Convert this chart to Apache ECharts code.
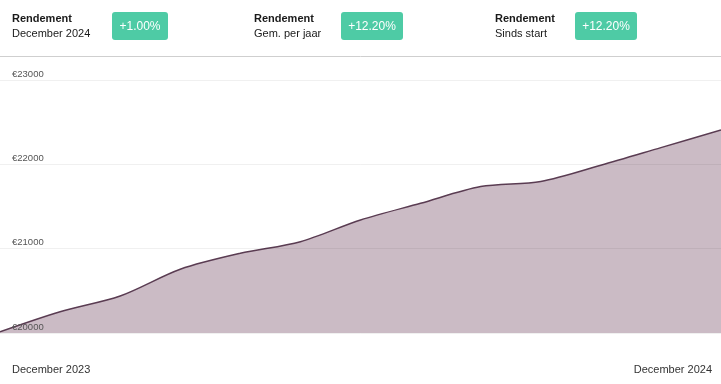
<!DOCTYPE html>
<html>
<head>
<meta charset="utf-8">
<script src="https://cdn.jsdelivr.net/npm/echarts@6/dist/echarts.min.js"></script>
<style>
html,body{margin:0;padding:0;background:#fff;}
#c{width:721px;height:384px;}
</style>
</head>
<body>
<div id="c"></div>
<script>
const categories = ['December 2023','Januari 2024','Februari 2024','Maart 2024','April 2024','Mei 2024','Juni 2024','Juli 2024','Augustus 2024','September 2024','Oktober 2024','November 2024','December 2024'];
const values = [20015, 20253, 20439, 20756, 20945, 21083, 21340, 21538, 21736, 21797, 21989, 22198, 22408];
const headerTitles = ['Rendement','Rendement','Rendement'];
const headerSubs = ['December 2024','Gem. per jaar','Sinds start'];
const badgeTexts = ['+1.00%','+12.20%','+12.20%'];
const yTicks = [20000, 21000, 22000, 23000];

const FONT = '"Liberation Sans", Arial, sans-serif';
const textX = [12, 254, 495];
const badgeX = [112, 341, 575];
const badgeW = [56, 62, 62];

const graphics = [];
for (let i = 0; i < 3; i++) {
  graphics.push({type:'text', left:textX[i], top:13, style:{text:headerTitles[i], font:'bold 11px ' + FONT, fill:'#1a1a1a'}});
  graphics.push({type:'text', left:textX[i], top:28, style:{text:headerSubs[i], font:'400 11px ' + FONT, fill:'#1a1a1a'}});
  graphics.push({type:'rect', left:badgeX[i], top:12, shape:{width:badgeW[i], height:28, r:3}, style:{fill:'#4ecba5'}});
  graphics.push({type:'text', x:badgeX[i] + badgeW[i]/2, y:26.5, style:{text:badgeTexts[i], font:'400 12px ' + FONT, fill:'#ffffff', align:'center', verticalAlign:'middle'}});
}
graphics.push({type:'line', shape:{x1:0, y1:56.5, x2:721, y2:56.5}, style:{stroke:'#cfcfcf', lineWidth:1}});

const chart = echarts.init(document.getElementById('c'));
chart.setOption({
  animation: false,
  graphic: graphics,
  grid: {left:0, right:0, top:80, bottom:51, containLabel:false},
  xAxis: {
    type:'category',
    data: categories,
    boundaryGap:false,
    axisLine:{show:false},
    axisTick:{show:false},
    axisLabel:{
      show:true,
      interval: (idx) => idx === 0 || idx === categories.length - 1,
      margin:31,
      fontSize:11,
      fontFamily:FONT,
      color:'#333',
      padding:[0,9,0,12],
      alignMinLabel:'left',
      alignMaxLabel:'right'
    },
    splitLine:{show:false}
  },
  yAxis: {
    type:'value',
    z: 5,
    min: yTicks[0],
    max: yTicks[yTicks.length-1],
    interval: 1000,
    axisLine:{show:false},
    axisTick:{show:false},
    axisLabel:{
      inside:true,
      margin:12,
      fontSize:9.5,
      fontFamily:FONT,
      color:'#555',
      verticalAlign:'bottom',
      padding:[0,0,1,0],
      formatter:(v) => '€' + v
    },
    splitLine:{show:true, lineStyle:{color:'rgba(0,0,0,0.06)', width:1}}
  },
  series: [{
    type:'line',
    data: values,
    smooth:0.3,
    symbol:'none',
    lineStyle:{color:'#5a3c52', width:1.5},
    areaStyle:{color:'#cbbbc5', opacity:1},
    z:1
  }]
});
</script>
</body>
</html>
